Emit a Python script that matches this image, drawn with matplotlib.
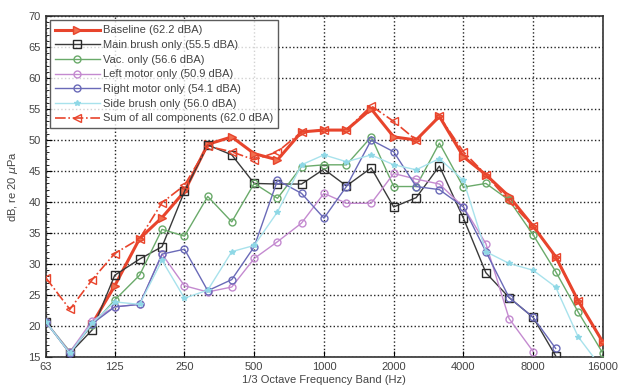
import matplotlib
matplotlib.use('Agg')
import matplotlib.pyplot as plt
import numpy as np

plt.rcParams['font.family'] = ['Liberation Sans', 'DejaVu Sans']

# 1/3 octave band centre frequencies (Hz)
bands = [63, 80, 100, 125, 160, 200, 250, 315, 400, 500, 630, 800, 1000,
         1250, 1600, 2000, 2500, 3150, 4000, 5000, 6300, 8000, 10000, 12500, 16000]
ticks = [63, 125, 250, 500, 1000, 2000, 4000, 8000, 16000]

nan = np.nan
baseline = [nan, nan, 20.4, 26.5, 34.1, 37.5, 41.7, 49.3, 50.5, 47.8, 46.8, 51.3, 51.6,
            51.6, 55.0, 50.5, 50.0, 53.8, 47.3, 44.4, 40.9, 36.1, 31.2, 24.1, 17.4]
main_brush = [20.7, 15.6, 19.4, 28.2, 30.8, 32.8, 41.7, 49.2, 47.6, 43.0, 42.9, 42.9, 45.3,
              42.6, 45.5, 39.2, 40.7, 45.8, 37.4, 28.6, 24.6, 21.4, 15.2, nan, nan]
vac = [20.7, 15.9, 20.2, 24.2, 28.2, 35.6, 34.5, 40.9, 36.8, 43.0, 40.6, 45.7, 46.0,
       46.0, 50.5, 42.5, 42.5, 49.5, 42.4, 43.0, 40.3, 34.7, 28.8, 22.3, 15.6]
left_motor = [20.7, 15.8, 20.9, 23.1, 23.5, 31.6, 26.5, 25.5, 26.3, 30.9, 33.6, 36.6, 41.4,
              39.8, 39.8, 44.6, 43.7, 42.9, 39.2, 33.3, 21.2, 15.9, nan, nan, nan]
right_motor = [20.7, 15.6, 20.4, 23.1, 23.5, 31.6, 32.4, 25.7, 27.5, 32.8, 43.5, 41.4, 37.4,
               42.5, 50.0, 48.1, 42.5, 42.0, 39.2, 32.0, 24.6, 21.4, 16.4, nan, nan]
side_brush = [20.7, 15.6, 20.5, 23.9, 23.5, 30.6, 24.5, 25.8, 32.0, 33.0, 38.4, 46.0, 47.6,
              46.5, 47.6, 46.0, 45.2, 47.0, 43.5, 32.0, 30.1, 29.0, 26.3, 18.3, 13.0]
sum_all = [27.8, 22.7, 27.5, 31.7, 34.1, 39.9, 42.7, 49.0, 48.1, 46.8, 48.1, 51.3, 51.6,
           51.6, 55.5, 53.0, 50.0, 53.8, 48.1, 44.4, 40.1, 36.1, 31.2, 24.1, 17.4]

labels = ['Baseline (62.2 dBA)', 'Main brush only (55.5 dBA)', 'Vac. only (56.6 dBA)',
          'Left motor only (50.9 dBA)', 'Right motor only (54.1 dBA)',
          'Side brush only (56.0 dBA)', 'Sum of all components (62.0 dBA)']

red = '#e8442c'
txt = '#444444'

fig = plt.figure(figsize=(6.19, 3.89), dpi=100)
ax = fig.add_axes([0.074, 0.082, 0.900, 0.877])

ax.plot(bands, baseline, '-', color=red, lw=2.2, marker='>', ms=6,
        mfc='#f07050', mec=red, label=labels[0], zorder=3)
ax.plot(bands, main_brush, '-', color='#3a3a3a', lw=1.0, marker='s', ms=5.5,
        mfc='none', mec='#2a2a2a', label=labels[1], zorder=4)
ax.plot(bands, vac, '-', color='#6aaa6a', lw=1.0, marker='o', ms=5,
        mfc='none', mec='#6aaa6a', label=labels[2], zorder=4)
ax.plot(bands, left_motor, '-', color='#c48ad0', lw=1.0, marker='o', ms=5,
        mfc='none', mec='#c48ad0', label=labels[3], zorder=4)
ax.plot(bands, right_motor, '-', color='#6a6ab8', lw=1.0, marker='o', ms=5,
        mfc='none', mec='#6a6ab8', label=labels[4], zorder=4)
ax.plot(bands, side_brush, '-', color='#a8e2ec', lw=1.0, marker='*', ms=4,
        mfc='#8fd8e6', mec='#8fd8e6', label=labels[5], zorder=4)
ax.plot(bands, sum_all, '-.', color=red, lw=1.2, marker='<', ms=6,
        mfc='none', mec=red, label=labels[6], zorder=5)

ax.set_xscale('log', base=2)
ax.set_xlim(63, 16000)
ax.set_ylim(15, 70)
ax.set_xticks(ticks)
ax.set_xticklabels([str(t) for t in ticks])
ax.minorticks_off()
ax.set_yticks(np.arange(15, 71, 5))
ax.yaxis.set_minor_locator(matplotlib.ticker.MultipleLocator(1))
ax.tick_params(axis='both', direction='in', labelsize=8, labelcolor=txt, length=4)
ax.tick_params(axis='y', which='minor', direction='in', length=2)
ax.grid(True, which='major', linestyle=':', color='#222222', lw=1.0)

ax.set_xlabel('1/3 Octave Frequency Band (Hz)', fontsize=8, color=txt, labelpad=2)
ax.set_ylabel('dB, re 20 $\\mu$Pa', fontsize=8, color=txt, labelpad=6)
for s in ax.spines.values():
    s.set_color('#333333')
    s.set_linewidth(1.2)

leg = ax.legend(loc='upper left', fontsize=8, frameon=True, fancybox=False,
                borderaxespad=0.4, handlelength=4.0, labelspacing=0.42,
                borderpad=0.45, handletextpad=0.3)
leg.get_frame().set_edgecolor('#333333')
leg.get_frame().set_linewidth(1.0)
for t in leg.get_texts():
    t.set_color(txt)

fig.savefig('out.png', dpi=100, facecolor='white')
